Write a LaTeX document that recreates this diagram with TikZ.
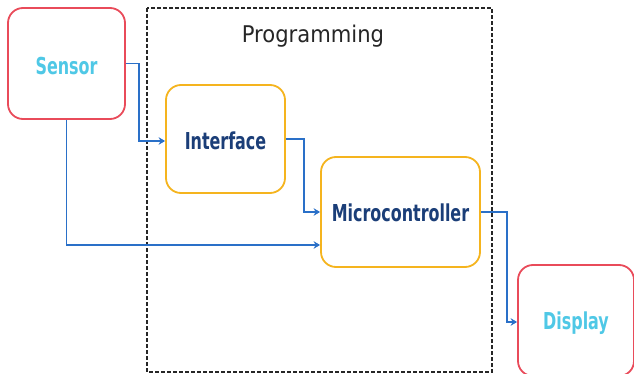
\documentclass[tikz,border=0pt]{standalone}
\usepackage{fontspec}
\usetikzlibrary{arrows.meta}
\newfontfamily\lblfont[FakeStretch=0.76]{DejaVu Sans Condensed Bold}
\newfontfamily\titfont[FakeStretch=1.02]{DejaVu Sans Condensed}
\definecolor{redb}{HTML}{E94B5A}
\definecolor{goldb}{HTML}{F5B41E}
\definecolor{cyant}{HTML}{4FC8E6}
\definecolor{navyt}{HTML}{1B3E78}
\definecolor{arrowb}{HTML}{2A70C8}
\tikzset{
  endbox/.style={draw=redb, line width=1.8pt, rounded corners=15pt, fill=white},
  midbox/.style={draw=goldb, line width=1.8pt, rounded corners=15pt, fill=white},
  endtxt/.style={text=cyant, font=\lblfont\fontsize{23.3}{27}\selectfont},
  midtxt/.style={text=navyt, font=\lblfont\fontsize{23.3}{27}\selectfont},
  conn/.style={draw=arrowb, line width=1.3pt, -{Stealth[length=6.5pt,width=7.5pt]}},
  frame/.style={draw=black!85, line width=1.4pt, dash pattern=on 4pt off 2pt}
}
\begin{document}
\begin{tikzpicture}[x=1pt,y=-1pt]
\clip (0,0) rectangle (634,374);
\fill[white] (0,0) rectangle (634,374);
\draw[frame] (147,8) rectangle (492,372);
\node[font=\titfont\fontsize{23}{27}\selectfont, text=black!85] (prog) at (313,36) {Programming};
\node[endbox, minimum width=117pt, minimum height=111pt,
  label={[endtxt, yshift=-2.5pt]center:Sensor}] (sensor) at (66.5,63.5) {};
\node[midbox, minimum width=119pt, minimum height=108pt,
  label={[midtxt, yshift=-2pt]center:Interface}] (iface) at (225.5,139) {};
\node[midbox, minimum width=159pt, minimum height=110pt,
  label={[midtxt, yshift=-0.5pt]center:Microcontroller}] (micro) at (400.5,212) {};
\node[endbox, minimum width=116pt, minimum height=111pt,
  label={[endtxt, yshift=-2.5pt]center:Display}] (disp) at (576,320.5) {};
\draw[conn] (sensor.east) -- ++(13,0) |- ([yshift=-2pt]iface.west);
\draw[conn] (iface.east) -- ++(18,0) |- (micro.west);
\draw[conn] (sensor.south) |- ([yshift=-33pt]micro.west);
\draw[conn] (micro.east) -- ++(26,0) |- ([yshift=-1.5pt]disp.west);
\end{tikzpicture}
\end{document}
